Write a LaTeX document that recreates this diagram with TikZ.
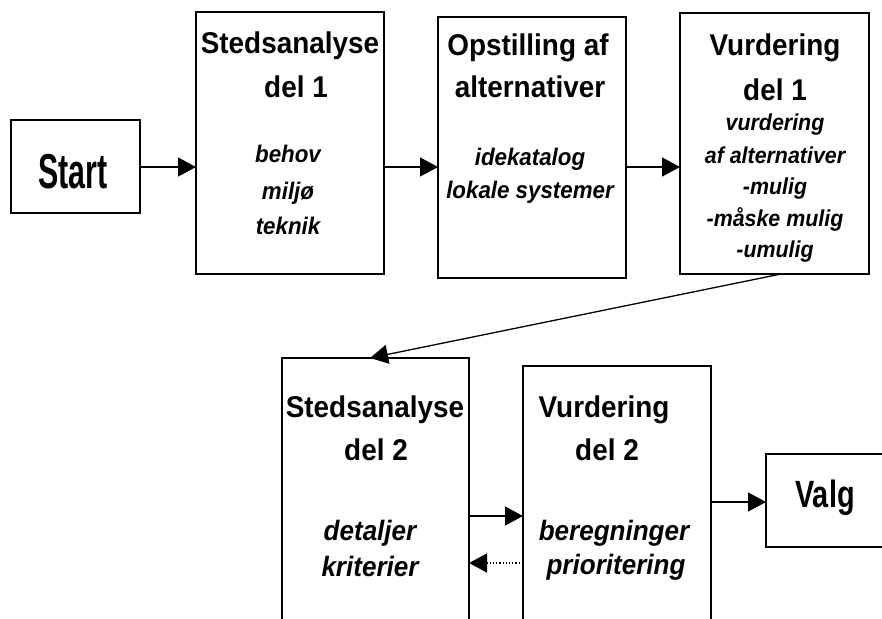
\documentclass[tikz,border=0pt]{standalone}
\usepackage{fontspec}
\usetikzlibrary{arrows.meta}
\newfontfamily\tfont{Liberation Sans Bold}[FakeStretch=0.93]
\newfontfamily\ifont{Liberation Sans Bold Italic}[FakeStretch=0.93]
\newfontfamily\startf{Liberation Sans Bold}[FakeStretch=0.62]
\newfontfamily\valgf{Liberation Sans Bold}[FakeStretch=0.76]
\tikzset{
  box/.style={draw, line width=1.5pt, inner sep=0pt, outer sep=0pt},
  ttl/.style={font=\tfont\fontsize{30}{30}\selectfont, anchor=base, inner sep=0pt},
  sub/.style={font=\ifont\fontsize{24}{24}\selectfont, anchor=base, inner sep=0pt},
  subs/.style={font=\ifont\fontsize{23}{23}\selectfont, anchor=base, inner sep=0pt},
  subl/.style={font=\ifont\fontsize{28}{28}\selectfont, anchor=base, inner sep=0pt},
  arr/.style={line width=1.3pt, -{Triangle[length=18pt,width=19pt]}},
  darr/.style={line width=1.2pt, dotted, -{Triangle[length=18pt,width=19pt]}}
}
\begin{document}
\begin{tikzpicture}[x=1pt,y=-1pt]
\useasboundingbox (0,0) rectangle (882,618);
\clip (0,0) rectangle (882,618);
% boxes
\node[box, minimum width=129pt, minimum height=93pt] (start) at (75.5,166.5) {};
\node[box, minimum width=188pt, minimum height=262pt] (s1) at (290,143) {};
\node[box, minimum width=188pt, minimum height=261pt] (op) at (532,147.5) {};
\node[box, minimum width=189pt, minimum height=261pt] (v1) at (774.5,143.5) {};
\node[box, minimum width=187pt, minimum height=292pt] (s2) at (375.5,504) {};
\node[box, minimum width=188pt, minimum height=284pt] (v2) at (617,508) {};
\node[box, minimum width=134pt, minimum height=93pt] (valg) at (833,500.5) {};
% texts
\node[anchor=base, inner sep=0pt, font=\startf\fontsize{49}{49}\selectfont] (tstart) at (73,188) {Start};
\node[anchor=base, inner sep=0pt, font=\valgf\fontsize{38}{38}\selectfont] (tvalg) at (825,507) {Valg};
\node[ttl] (s1a) at (290,53) {Stedsanalyse};
\node[ttl] (s1b) at (296,97) {del 1};
\node[sub] (s1c) at (288,162) {behov};
\node[sub] (s1d) at (288,199) {miljø};
\node[sub] (s1e) at (288,234) {teknik};
\node[ttl] (opa) at (528,56) {Opstilling af};
\node[ttl] (opb) at (530,97) {alternativer};
\node[sub] (opc) at (530,165) {idekatalog};
\node[sub] (opd) at (530,198) {lokale systemer};
\node[ttl] (v1a) at (775,56) {Vurdering};
\node[ttl] (v1b) at (775,100) {del 1};
\node[subs] (v1c) at (775,130) {vurdering};
\node[subs] (v1d) at (775,163) {af alternativer};
\node[subs] (v1e) at (775,194) {-mulig};
\node[subs] (v1f) at (775,226) {-måske mulig};
\node[subs] (v1g) at (775,257) {-umulig};
\node[ttl] (s2a) at (375,417) {Stedsanalyse};
\node[ttl] (s2b) at (376,460) {del 2};
\node[subl] (s2c) at (370,540) {detaljer};
\node[subl] (s2d) at (370,576) {kriterier};
\node[ttl] (v2a) at (604,417) {Vurdering};
\node[ttl] (v2b) at (607,460) {del 2};
\node[subl] (v2c) at (614,540) {beregninger};
\node[subl] (v2d) at (616,574) {prioritering};
% helper coordinates
\coordinate (ya) at (0,167);
\coordinate (yb) at (0,516);
\coordinate (yc) at (0,563);
\coordinate (yd) at (0,502);
\coordinate (xa) at (781,0);
\coordinate (xb) at (370,0);
% connectors
\draw[arr] (start.east |- ya) -- (s1.west |- ya);
\draw[arr] (s1.east |- ya) -- (op.west |- ya);
\draw[arr] (op.east |- ya) -- (v1.west |- ya);
\draw[arr] (v1.south -| xa) -- (s2.north -| xb);
\draw[arr] (s2.east |- yb) -- (v2.west |- yb);
\draw[darr] (v2.west |- yc) -- (s2.east |- yc);
\draw[arr] (v2.east |- yd) -- (valg.west |- yd);
\end{tikzpicture}
\end{document}
